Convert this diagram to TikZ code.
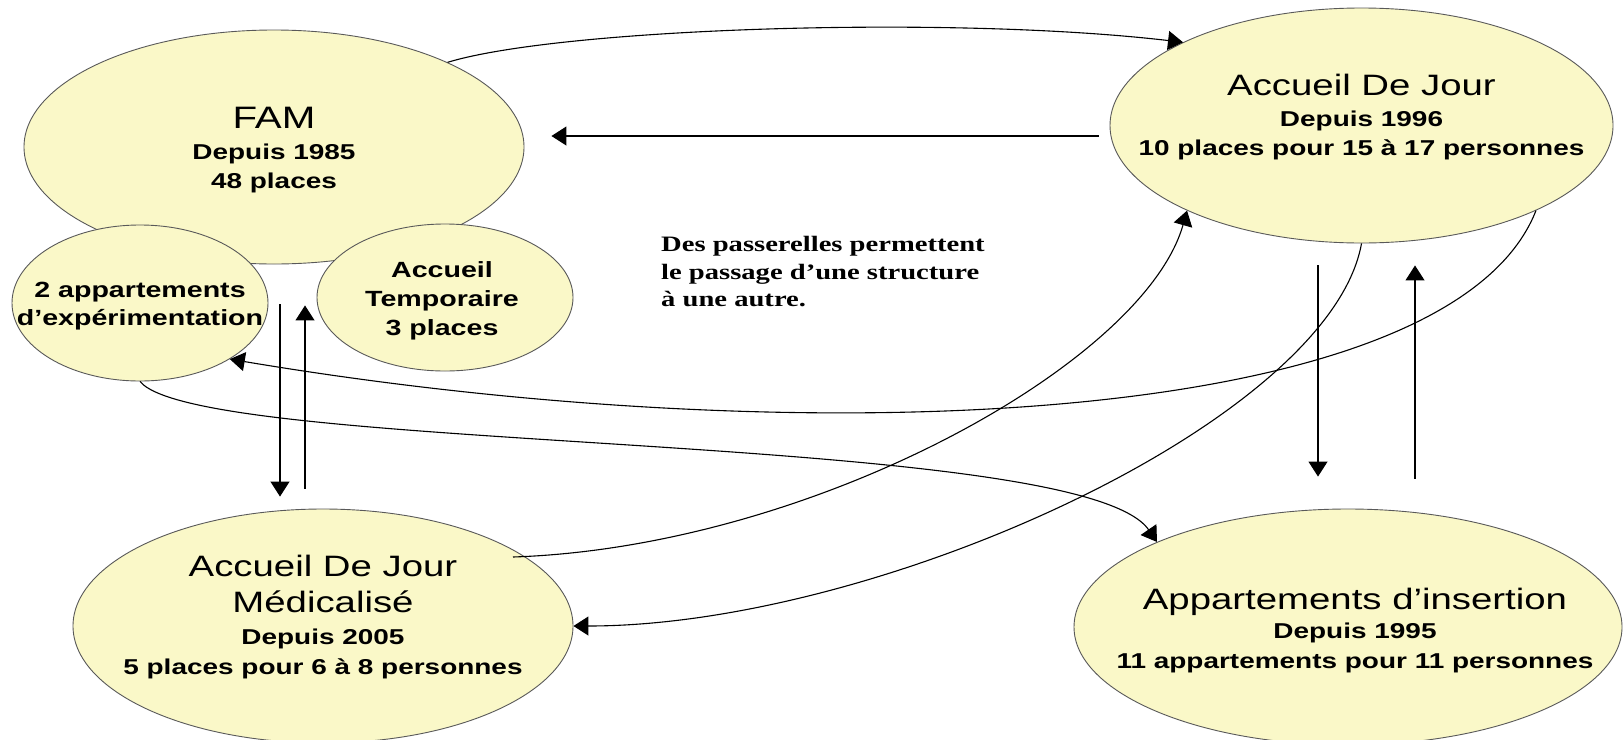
\documentclass[tikz,border=0pt]{standalone}
\usepackage{fontspec}
\setmainfont{Liberation Sans}[FakeStretch=1.3]
\newfontfamily\notefont{Liberation Serif}[FakeStretch=1.3]
\usetikzlibrary{shapes.geometric,arrows.meta}
\definecolor{paleyellow}{RGB}{250,248,200}

\begin{document}
\begin{tikzpicture}[x=1pt, y=-1pt,
    bubble/.style={ellipse, draw=black!65, fill=paleyellow, line width=0.9pt, inner sep=0pt},
    txt/.style={align=center, inner sep=0pt, font=\bfseries\fontsize{21.5}{29}\selectfont},
    arr/.style={-{Triangle[length=15pt,width=19pt]}, line width=1.1pt}]
    \useasboundingbox (0,0) rectangle (1624,739);
    \fill[white] (0,0) rectangle (1624,739);
    \clip (0,0) rectangle (1624,739);

    % structures
    \node[bubble, minimum width=500pt, minimum height=234pt] (fam) at (274,147) {};
    \node[bubble, minimum width=256pt, minimum height=156pt] (appexp) at (140,303) {};
    \node[bubble, minimum width=256pt, minimum height=147pt] (acctemp) at (445,297.5) {};
    \node[bubble, minimum width=503pt, minimum height=235pt] (adj) at (1361.5,125.5) {};
    \node[bubble, minimum width=500pt, minimum height=234pt] (adjm) at (323,626) {};
    \node[bubble, minimum width=548pt, minimum height=236pt] (appins) at (1348,627) {};

    \node[txt] (famtxt) at ([yshift=-3pt]fam.center) {{\mdseries\fontsize{31}{36}\selectfont FAM}\\[2pt]Depuis 1985\\48 places};
    \node[txt, font=\bfseries\fontsize{22}{28}\selectfont] (appexptxt) at ([yshift=-3pt]appexp.center) {2 appartements\\d’expérimentation};
    \node[txt, font=\bfseries\fontsize{22}{29}\selectfont] (acctemptxt) at ([xshift=-3pt,yshift=-3.5pt]acctemp.center) {Accueil\\Temporaire\\3 places};
    \node[txt] (adjtxt) at ([yshift=8.5pt]adj.center) {{\mdseries\fontsize{29.5}{34}\selectfont Accueil De Jour}\\[2pt]Depuis 1996\\10 places pour 15 à 17 personnes};
    \node[txt] (adjmtxt) at ([yshift=9pt]adjm.center) {{\mdseries\fontsize{29.5}{34}\selectfont Accueil De Jour}\\[7pt]{\mdseries\fontsize{29.5}{34}\selectfont Médicalisé}\\[2.5pt]Depuis 2005\\[1pt]5 places pour 6 à 8 personnes};
    \node[txt] (appinstxt) at ([xshift=7pt,yshift=-3.5pt]appins.center) {{\mdseries\fontsize{29.5}{34}\selectfont Appartements d’insertion}\\Depuis 1995\\[1pt]11 appartements pour 11 personnes};

    \node[anchor=west, align=left, inner sep=0pt, font=\notefont\bfseries\fontsize{22}{27.5}\selectfont] (note) at (661,272) {Des passerelles permettent\\le passage d’une structure\\à une autre.};

    % passerelles
    \draw[arr] (fam.26) .. controls (560,28) and (950,15) .. (adj.155);
    \draw[arr] ([xshift=-11pt,yshift=-10.5pt]adj.west) -- ([xshift=27pt,yshift=11pt]fam.east);
    \draw[arr] ([xshift=6pt,yshift=-40pt]fam.south) -- ([xshift=-43pt,yshift=12pt]adjm.north);
    \draw[arr] ([xshift=-18pt,yshift=20pt]adjm.north) -- ([xshift=31pt,yshift=-41pt]fam.south);
    \draw[arr] ([xshift=-43.5pt,yshift=-22pt]adj.south) -- ([xshift=-30pt,yshift=32pt]appins.north);
    \draw[arr] ([xshift=67pt,yshift=30pt]appins.north) -- ([xshift=53.5pt,yshift=-22pt]adj.south);
    \draw[arr] ([xshift=190pt,yshift=69pt]adjm.center) .. controls (813,547) and (1144,363) .. (adj.206);
    \draw[arr] (adj.south) .. controls (1330,420) and (880,626) .. (adjm.east);
    \draw[arr] (adj.334) .. controls (1450,430) and (800,455) .. (appexp.-32);
    \draw[arr] (appexp.south) .. controls (200,455) and (1080,430) .. (appins.156);
    %\draw[arr] (acctemp.east) -- (adj.west);
\end{tikzpicture}
\end{document}
